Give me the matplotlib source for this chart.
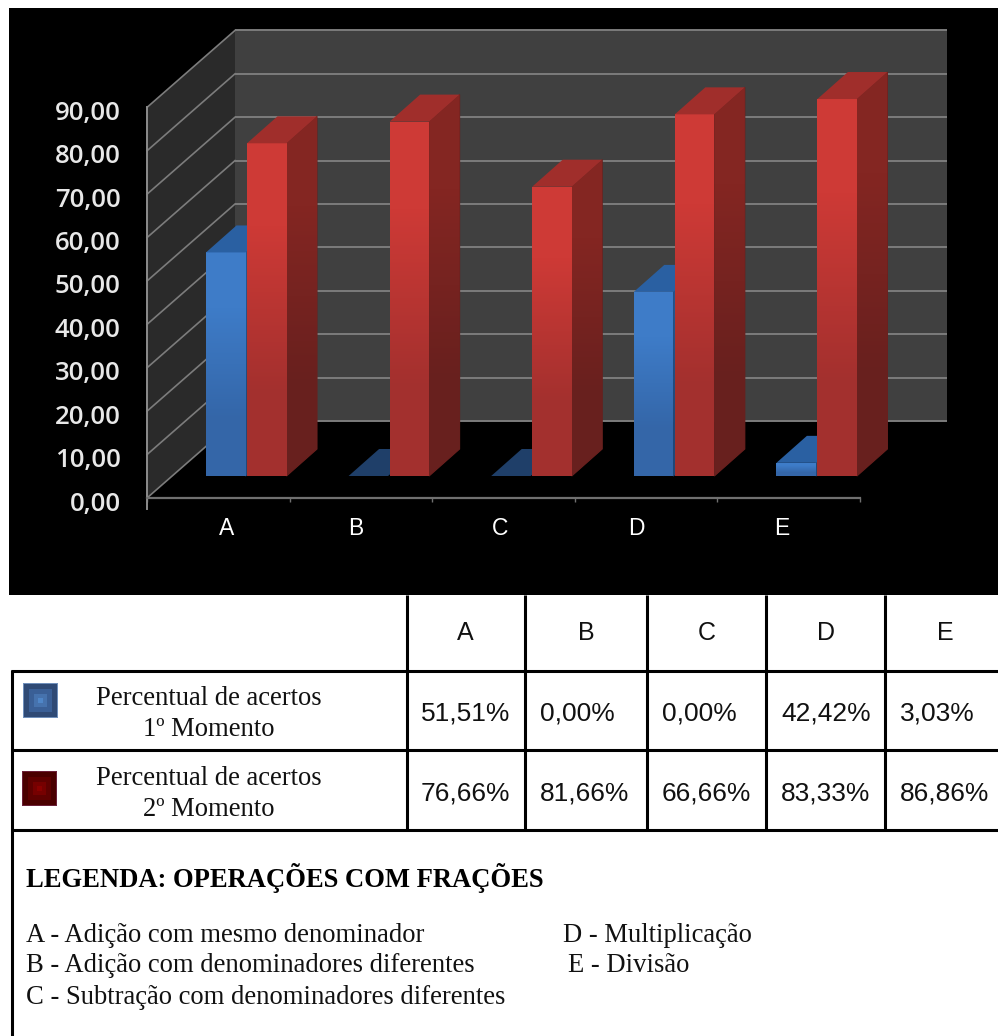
import numpy as np
import matplotlib
matplotlib.use('Agg')
import matplotlib.pyplot as plt
from matplotlib.patches import Polygon, Rectangle
from matplotlib.transforms import ScaledTranslation

categories = ['A', 'B', 'C', 'D', 'E']
momento1 = [51.51, 0.00, 0.00, 42.42, 3.03]
momento2 = [76.66, 81.66, 66.66, 83.33, 86.86]
y_ticks = [0, 10, 20, 30, 40, 50, 60, 70, 80, 90]
row_names = ['Percentual de acertos\n1º Momento', 'Percentual de acertos\n2º Momento']

W, H = 998, 1036
fig = plt.figure(figsize=(W / 100, H / 100), dpi=100, facecolor='white')

# chart area in pixels, 1 category = 142.6 px, 1 unit = 4.34 px, origin at (147, 498)
px_x, px_y = 142.6, 4.34
ax = fig.add_axes([9 / W, 1 - 595 / H, (W - 9) / W, (595 - 8) / H])
ax.set_facecolor('black')

wall_dx, wall_dy = 88 / px_x, 77 / px_y
wall_right = 800 / px_x
depth_dx, depth_dy = 30.5 / px_x, 27 / px_y
floor_y = 22 / px_y
bar_w = 39.5 / px_x
offs_blue, offs_red = 59 / px_x, 100 / px_x

# paredes
ax.add_patch(Polygon([(wall_dx, wall_dy), (wall_right, wall_dy), (wall_right, 90 + wall_dy), (wall_dx, 90 + wall_dy)],
                     facecolor='#404040', edgecolor='none', zorder=1))
ax.add_patch(Polygon([(0, 0), (wall_dx, wall_dy), (wall_dx, 90 + wall_dy), (0, 90)],
                     facecolor='#2a2a2a', edgecolor='none', zorder=1))
for t in y_ticks:
    ax.plot([wall_dx, wall_right], [t + wall_dy, t + wall_dy], color='#7c7c7c', lw=1.4, zorder=2,
            solid_capstyle='butt')
    ax.plot([0, wall_dx], [t, t + wall_dy], color='#7c7c7c', lw=1.2, zorder=2)


def gradient(verts, c_top, c_bot, z):
    verts = np.array(verts)
    img = np.array([[c_top], [c_bot]], dtype=np.uint8)
    im = ax.imshow(img, extent=(verts[:, 0].min(), verts[:, 0].max(), verts[:, 1].min(), verts[:, 1].max()),
                   origin='upper', aspect='auto', interpolation='bilinear', zorder=z)
    poly = Polygon(verts, transform=ax.transData, facecolor='none', edgecolor='none')
    im.set_clip_path(poly)


def draw_bar(x, v, front, side, top, z):
    y0 = floor_y
    y1 = floor_y + v
    side_verts = [(x + bar_w, y0), (x + bar_w + depth_dx, y0 + depth_dy),
                  (x + bar_w + depth_dx, y1 + depth_dy), (x + bar_w, y1)]
    ax.bar(x, v, width=bar_w, bottom=y0, align='edge', color=np.array(front[1]) / 255, zorder=z + 0.05)
    if v > 0:
        # base lisa por baixo, senao aparece a parede na emenda
        ax.add_patch(Polygon(side_verts, facecolor=np.array(side[1]) / 255, edgecolor=np.array(side[1]) / 255,
                             lw=0.8, zorder=z))
        gradient([(x, y0), (x + bar_w, y0), (x + bar_w, y1), (x, y1)], front[0], front[1], z + 0.1)
        gradient(side_verts, side[0], side[1], z + 0.1)
    ax.add_patch(Polygon([(x, y1), (x + bar_w, y1), (x + bar_w + depth_dx, y1 + depth_dy), (x + depth_dx, y1 + depth_dy)],
                         facecolor=top, edgecolor='none', zorder=z + 0.1))


red_front = ((206, 58, 54), (163, 48, 46))
red_side = ((132, 38, 34), (104, 32, 30))
blue_front = ((62, 124, 200), (52, 102, 168))
blue_side = ((40, 85, 140), (34, 72, 120))

z = 3
for i in range(len(categories)):
    top_blue = '#2a60a2' if momento1[i] > 0 else '#1f3f69'
    draw_bar(i + offs_blue, momento1[i], blue_front, blue_side, top_blue, z)
    draw_bar(i + offs_red, momento2[i], red_front, red_side, '#a02e2b', z + 1)
    z += 2

ax.set_xlim(-138 / px_x, (W - 147) / px_x)
ax.set_ylim(-97 / px_y, 490 / px_y)

for s in ['top', 'right']:
    ax.spines[s].set_visible(False)
ax.spines['bottom'].set_position(('data', 0))
ax.spines['bottom'].set_bounds(0, 5)
ax.spines['bottom'].set_color('#707070')
ax.spines['bottom'].set_linewidth(1.6)
ax.spines['left'].set_position(('data', 0))
ax.spines['left'].set_bounds(-2.5, 90)
ax.spines['left'].set_color('#8c8c8c')
ax.spines['left'].set_linewidth(1.4)

ax.set_yticks(y_ticks)
ax.set_yticklabels([('%.2f' % t).replace('.', ',') for t in y_ticks], family='Open Sans', fontweight='semibold',
                   fontsize=18.5, color='#e8e8e8', va='center')
ax.tick_params(axis='y', length=0, pad=19)
# rotulos ficam abaixo da marca
shift = ScaledTranslation(0, -6 / 100, fig.dpi_scale_trans)
for lab in ax.get_yticklabels():
    lab.set_transform(lab.get_transform() + shift)

ax.set_xticks(range(6))
ax.set_xticklabels([])
ax.tick_params(axis='x', which='major', length=3, width=1, color='#707070')
label_pos = [0.561, 1.466, 2.475, 3.429, 4.453]
ax.set_xticks(label_pos, minor=True)
ax.set_xticklabels(categories, minor=True, family='Liberation Sans', fontsize=16.5, color='white')
ax.tick_params(axis='x', which='minor', length=0, pad=14)

# tabela, em pixels
tb = fig.add_axes([0, 0, 1, 1])
tb.set_xlim(0, W)
tb.set_ylim(H, 0)
tb.axis('off')
tb.patch.set_alpha(0)

line_w = 2.2
col_x = [407, 525, 647, 766, 885]
row_y = [671, 750, 830]
for y in row_y:
    tb.plot([11, W], [y, y], color='black', lw=line_w, solid_capstyle='butt')
for x in col_x:
    tb.plot([x, x], [595, 830], color='black', lw=line_w, solid_capstyle='butt')
tb.plot([12, 12], [670, H], color='black', lw=line_w, solid_capstyle='butt')

serif = 'Liberation Serif'
sans = 'Liberation Sans'
head_x = [465, 586, 707, 826, 945]
val_x = [421, 540, 662, 781, 900]
for i in range(5):
    tb.text(head_x[i], 633, categories[i], family=sans, fontsize=18, ha='center', va='center', color='#111111')
    tb.text(val_x[i], 714, ('%.2f%%' % momento1[i]).replace('.', ','), family=sans, fontsize=19, ha='left',
            va='center', color='#111111')
    tb.text(val_x[i], 793, ('%.2f%%' % momento2[i]).replace('.', ','), family=sans, fontsize=19, ha='left',
            va='center', color='#111111')

for name, y in zip(row_names, [714, 794]):
    tb.text(209, y, name, family=serif, fontsize=19.2, ha='center', va='center', linespacing=1.35, color='#111111')

# quadradinhos da legenda
blue_sq = ['#6f8fbb', '#2f4a75', '#3a5f96', '#4672ad', '#4f86c8']
red_sq = ['#6b2038', '#4a0000', '#5f0000', '#760000', '#8a0000']
for cols, x0, y0 in [(blue_sq, 23, 683), (red_sq, 22, 771)]:
    for k, c in enumerate(cols):
        d = [0, 1, 6, 11, 15][k]
        tb.add_patch(Rectangle((x0 + d, y0 + d), 35 - 2 * d, 35 - 2 * d, facecolor=c, edgecolor='none'))

tb.text(26, 878, 'LEGENDA: OPERAÇÕES COM FRAÇÕES', family=serif, fontsize=19.2, fontweight='bold', va='center',
        color='black')
legend_left = ['A - Adição com mesmo denominador', 'B - Adição com denominadores diferentes',
               'C - Subtração com denominadores diferentes']
for txt, y in zip(legend_left, [936, 966, 997]):
    tb.text(26, y, txt, family=serif, fontsize=19.2, va='center', color='#111111')
tb.text(563, 936, 'D - Multiplicação', family=serif, fontsize=19.2, va='center', color='#111111')
tb.text(568, 966, 'E - Divisão', family=serif, fontsize=19.2, va='center', color='#111111')

fig.savefig('out.png', dpi=100)
